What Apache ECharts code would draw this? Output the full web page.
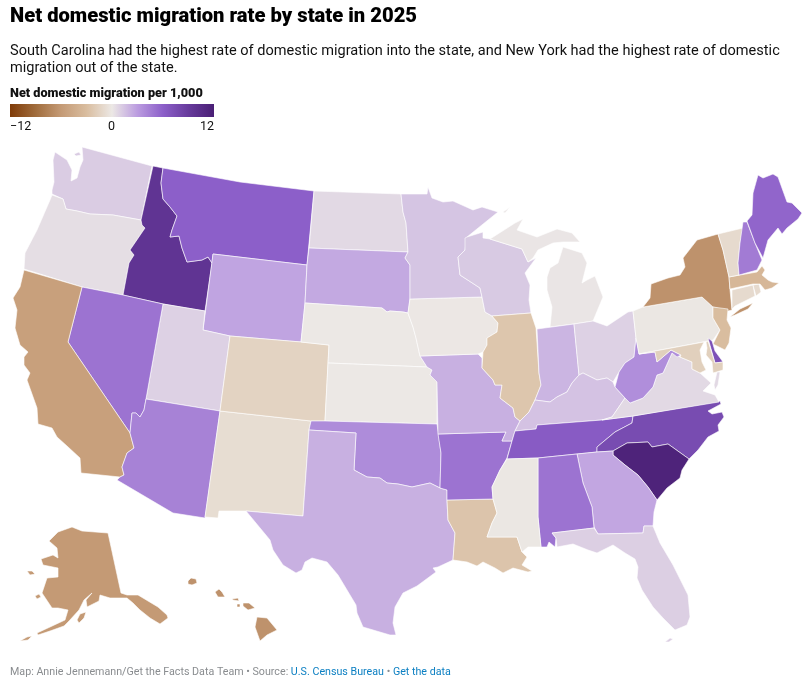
<!DOCTYPE html>
<html>
<head>
<meta charset="utf-8">
<script src="https://cdn.jsdelivr.net/npm/echarts@6/dist/echarts.min.js"></script>
<style>html,body{margin:0;padding:0;background:#fff}#c{width:809px;height:681px}</style>
</head>
<body>
<div id="c"></div>
<script>
// Chart values
const stateNames = ["South Carolina","Idaho","Delaware","North Carolina","Tennessee","Montana","Maine","Nevada","Arkansas","Alabama","New Hampshire","Arizona","Oklahoma","West Virginia","Wyoming","Georgia","South Dakota","Texas","Missouri","Indiana","Kentucky","Minnesota","Wisconsin","Washington","Florida","Utah","Ohio","Virginia","North Dakota","Oregon","Michigan","Mississippi","Pennsylvania","Iowa","Nebraska","Kansas","New Mexico","Colorado","Vermont","Connecticut","Rhode Island","Maryland","Illinois","Louisiana","New Jersey","Massachusetts","California","Alaska","Hawaii","New York"];
const migrationRates = [11.6,9.7,7.2,7.6,6.3,6.0,5.7,5.0,5.0,5.0,4.6,4.3,3.8,3.7,2.7,2.6,2.5,2.2,2.2,2.0,1.5,1.4,1.2,1.1,1.0,0.9,0.9,0.6,0.6,0.4,0.1,-0.1,-0.1,-0.05,0,0,-0.8,-1.5,-1,-1,-1,-1.7,-2.4,-2.5,-3,-3.5,-5.5,-6,-6.5,-6.5];
const legendTicks = ["−12","0","12"];
const legendDomain = [-12,12];
const legendColors = ["#7f3b08","#a06c3c","#c49a75","#d9bd9f","#ece8e5","#bb9ce0","#8c5fc9","#673b9c","#4a1f75"];
const headline = "Net domestic migration rate by state in 2025";
const deck = "South Carolina had the highest rate of domestic migration into the state, and New York had the highest rate of domestic\nmigration out of the state.";
const legendTitle = "Net domestic migration per 1,000";

// Map outlines (base geography, traced in map units)
const outlines = {
"Washington":[[[82,147],[152,166],[141,220],[113,215],[90,214],[77,211],[66,209],[63,199],[52,194],[52,190],[54,182],[53,160],[55,152],[67,160],[72,170],[71,181],[77,178],[80,167],[83,160]],[[74,154],[79,152],[81,155],[76,156]]],
"Oregon":[[[52,195],[63,199],[66,209],[77,211],[90,214],[113,215],[141,220],[142,225],[145,228],[130,250],[134,255],[129,263],[123,295],[82,287],[24,269],[25,253],[37,230],[50,200]]],
"Idaho":[[[153,166],[163,168],[161,183],[163,199],[170,207],[177,216],[172,230],[170,237],[179,236],[182,248],[187,262],[202,260],[208,257],[212,263],[205,311],[163,304],[123,295],[129,263],[134,255],[130,250],[145,228],[142,225],[141,220]]],
"Montana":[[[163,168],[240,182],[314,191],[307,265],[213,254],[212,263],[208,257],[202,260],[187,262],[182,248],[179,236],[170,237],[172,230],[177,216],[170,207],[163,199],[161,183]]],
"Wyoming":[[[213,254],[307,265],[305,303],[301,342],[230,336],[203,330]]],
"Utah":[[[163,304],[205,311],[203,330],[230,336],[220,411],[146,399]]],
"Nevada":[[[82,287],[123,295],[163,304],[146,399],[144,410],[140,417],[136,413],[132,413],[130,433],[68,342]]],
"California":[[[24,270],[82,287],[68,342],[130,433],[134,448],[127,453],[122,467],[124,475],[120,477],[81,473],[80,458],[67,446],[57,437],[52,428],[38,424],[37,408],[27,380],[30,373],[24,365],[24,357],[28,352],[20,345],[15,328],[17,310],[13,298],[20,287]]],
"Arizona":[[[146,399],[220,411],[205,518],[173,513],[117,480],[120,477],[124,475],[122,467],[127,453],[134,448],[130,433],[132,413],[136,413],[140,417],[144,410]]],
"New Mexico":[[[220,411],[311,421],[309,430],[303,516],[246,511],[219,511],[218,518],[205,517]]],
"Colorado":[[[230,336],[301,342],[329,345],[325,421],[311,421],[220,411]]],
"North Dakota":[[[314,191],[401,194],[403,212],[406,223],[408,252],[309,248]]],
"South Dakota":[[[309,248],[408,252],[405,258],[410,265],[410,298],[408,313],[403,312],[390,311],[387,312],[382,308],[305,303],[307,265]]],
"Nebraska":[[[305,303],[382,308],[387,312],[390,311],[403,312],[408,313],[413,327],[416,338],[420,356],[427,367],[328,363],[329,345],[301,342]]],
"Kansas":[[[328,363],[427,367],[432,370],[430,375],[437,382],[437,424],[325,421]]],
"Oklahoma":[[[311,421],[325,421],[437,424],[441,453],[440,488],[430,483],[412,487],[398,484],[387,483],[380,478],[367,477],[354,470],[356,433],[309,430]]],
"Texas":[[[309,430],[356,433],[354,470],[367,477],[380,478],[387,483],[398,484],[412,487],[430,483],[440,488],[447,490],[447,500],[448,520],[455,533],[453,560],[438,567],[433,568],[436,572],[417,586],[403,593],[395,607],[393,623],[396,635],[390,635],[363,627],[357,613],[356,605],[338,575],[327,562],[312,558],[305,562],[302,570],[296,573],[283,565],[273,550],[270,540],[246,511],[303,516]]],
"Louisiana":[[[447,500],[493,499],[497,513],[492,523],[487,537],[517,537],[522,552],[527,557],[522,565],[532,571],[528,572],[513,568],[503,573],[495,568],[483,562],[477,566],[467,562],[453,560],[455,533],[448,520]]],
"Arkansas":[[[438,434],[506,432],[502,441],[512,441],[507,458],[500,470],[492,487],[493,499],[447,500],[447,490],[440,488],[441,453]]],
"Missouri":[[[420,356],[478,354],[482,358],[482,368],[493,380],[495,385],[502,385],[500,398],[513,408],[515,417],[520,421],[515,431],[512,441],[502,441],[506,432],[438,434],[437,382],[430,375],[432,370],[427,367]]],
"Iowa":[[[410,299],[482,297],[485,312],[492,316],[498,323],[497,332],[487,338],[487,345],[483,352],[478,354],[420,356],[416,338],[413,327],[408,313]]],
"Minnesota":[[[401,194],[427,194],[428,187],[432,198],[443,202],[453,201],[473,210],[482,207],[498,212],[467,237],[465,250],[458,257],[460,275],[480,288],[482,297],[410,299],[410,265],[405,258],[408,252],[406,223],[403,212]]],
"Wisconsin":[[[465,238],[467,237],[483,232],[483,238],[490,239],[522,249],[528,262],[536,258],[525,273],[530,285],[529,300],[531,313],[492,316],[485,312],[482,297],[480,288],[460,275],[458,257],[465,250]]],
"Michigan":[[[550,327],[552,307],[547,290],[547,277],[550,268],[558,263],[563,247],[582,253],[587,263],[582,283],[587,280],[595,276],[603,297],[593,321],[574,324]],[[490,239],[515,223],[523,219],[517,230],[537,237],[557,229],[572,233],[580,242],[563,242],[553,243],[538,250],[533,258],[528,262],[522,249]],[[503,212],[510,207],[511,208],[505,213]]],
"Illinois":[[[492,316],[531,313],[536,328],[539,373],[541,385],[535,400],[529,412],[520,421],[515,417],[513,408],[500,398],[502,385],[495,385],[493,380],[482,368],[483,352],[487,345],[487,338],[497,332],[498,323]]],
"Indiana":[[[537,329],[574,324],[579,375],[572,383],[567,392],[557,397],[550,402],[535,400],[541,385],[539,373]]],
"Ohio":[[[574,324],[593,321],[607,326],[628,312],[633,311],[636,338],[634,357],[625,363],[619,372],[613,382],[607,378],[597,380],[583,373],[579,375]]],
"Kentucky":[[[535,400],[550,402],[557,397],[567,392],[572,383],[579,375],[583,373],[597,380],[607,378],[613,382],[615,387],[625,398],[612,417],[602,420],[537,425],[536,429],[515,431],[520,421],[529,412]]],
"Tennessee":[[[515,431],[536,429],[537,425],[602,420],[633,416],[632,423],[615,432],[597,447],[597,452],[577,454],[538,458],[507,459],[512,441]]],
"North Carolina":[[[633,416],[720,401],[721,404],[708,411],[712,414],[722,412],[724,417],[718,425],[719,431],[708,437],[698,450],[689,459],[668,444],[652,447],[648,442],[627,443],[613,451],[597,452],[597,447],[615,432],[632,423]]],
"South Carolina":[[[613,451],[627,443],[648,442],[652,447],[668,444],[689,459],[682,470],[680,478],[667,488],[657,500],[648,487],[638,475],[625,465],[613,455]]],
"Georgia":[[[577,454],[597,452],[613,451],[613,455],[625,465],[638,475],[648,487],[657,500],[654,512],[653,526],[644,526],[643,533],[598,534],[594,527],[592,507],[583,483]]],
"Alabama":[[[538,458],[577,454],[583,483],[592,507],[594,528],[552,533],[556,538],[555,547],[549,542],[547,547],[541,547],[538,517]]],
"Mississippi":[[[507,459],[538,458],[538,517],[541,547],[528,547],[522,552],[517,537],[487,537],[492,523],[497,513],[493,499],[492,487],[500,470]]],
"Florida":[[[552,533],[594,528],[598,534],[643,533],[644,526],[653,526],[660,543],[673,565],[688,595],[690,617],[687,625],[675,630],[663,618],[653,607],[642,590],[637,578],[638,567],[635,559],[625,553],[613,545],[597,553],[588,550],[573,544],[557,547],[556,538]],[[665,642],[670,638],[673,639],[669,642]]],
"Virginia":[[[602,420],[612,417],[625,398],[630,403],[643,398],[653,387],[657,375],[663,373],[672,353],[680,357],[692,362],[692,369],[700,373],[711,383],[703,391],[715,395],[719,402],[633,416]],[[714,385],[717,372],[720,372],[718,385],[715,390]]],
"West Virginia":[[[636,338],[639,354],[655,352],[657,362],[671,350],[681,355],[677,357],[672,353],[663,373],[657,375],[653,387],[643,398],[630,403],[625,398],[615,387],[619,372],[625,363],[634,357]]],
"Pennsylvania":[[[633,311],[643,307],[702,297],[713,307],[713,318],[720,330],[713,340],[708,341],[639,354],[636,338]]],
"New York":[[[643,307],[650,298],[651,284],[668,278],[680,275],[685,267],[683,258],[697,240],[718,234],[723,250],[729,277],[730,290],[732,310],[728,311],[713,307],[702,297]],[[730,317],[740,309],[753,303],[748,309],[735,315]]],
"New Jersey":[[[713,307],[728,309],[727,320],[731,328],[729,343],[725,350],[713,344],[720,330],[713,318]]],
"Delaware":[[[708,338],[712,341],[715,351],[723,362],[715,363]]],
"Maryland":[[[639,354],[704,342],[700,350],[702,362],[706,370],[700,373],[692,369],[692,362],[680,357],[681,355],[671,350],[657,362],[655,352]],[[706,342],[708,341],[715,363],[723,362],[723,370],[713,373],[712,362],[706,355],[707,348]]],
"Connecticut":[[[732,290],[753,285],[755,296],[735,306],[732,309]]],
"Rhode Island":[[[753,285],[759,284],[761,292],[756,296]]],
"Massachusetts":[[[729,277],[757,272],[762,266],[765,270],[762,275],[768,280],[772,282],[779,283],[772,288],[765,290],[760,284],[753,284],[730,289]]],
"Vermont":[[[718,234],[743,228],[740,243],[738,263],[739,275],[729,277],[723,250]]],
"New Hampshire":[[[743,222],[747,222],[755,243],[762,260],[757,270],[739,275],[738,263],[740,243]]],
"Maine":[[[747,221],[752,215],[753,193],[758,175],[763,178],[773,174],[778,177],[787,202],[792,203],[802,213],[798,219],[787,228],[782,234],[778,228],[768,240],[763,258],[755,243]]],
"Alaska":[[[72,527],[82,531],[108,533],[121,593],[127,595],[138,595],[143,598],[158,607],[167,615],[168,618],[160,624],[150,618],[140,610],[133,603],[127,598],[110,598],[100,595],[99,601],[87,607],[86,600],[92,593],[84,600],[79,610],[69,621],[64,626],[50,631],[38,635],[37,633],[50,627],[65,620],[68,610],[58,608],[52,608],[42,593],[47,578],[58,577],[58,568],[43,565],[41,559],[53,555],[58,558],[57,548],[49,541],[58,532]],[[27,571],[32,571],[35,574],[30,575]],[[35,596],[39,594],[41,597],[37,599]],[[77,620],[80,614],[86,612],[84,618],[79,623]],[[20,641],[27,637],[32,636],[28,640]]],
"Hawaii":[[[257,617],[267,618],[277,630],[267,635],[260,641],[255,627]],[[243,603],[249,603],[255,608],[248,610],[243,606]],[[232,599],[238,598],[239,601],[233,600]],[[237,604],[240,604],[240,607],[237,607]],[[215,592],[219,589],[222,592],[225,597],[218,597]],[[188,581],[191,578],[196,579],[197,583],[192,585],[188,584]]]
};

const features = Object.keys(outlines).map(name => ({
  type: "Feature",
  properties: { name },
  geometry: { type: "MultiPolygon", coordinates: outlines[name].map(r => [r.concat([r[0]])]) }
}));
echarts.registerMap("usa", { type: "FeatureCollection", features });

const allPts = Object.values(outlines).flat(2);
const xs = allPts.map(p => p[0]), ys = allPts.map(p => p[1]);
const x0 = Math.min(...xs), x1 = Math.max(...xs), y0 = Math.min(...ys), y1 = Math.max(...ys);

const font = "Roboto";
const chart = echarts.init(document.getElementById("c"), null, { renderer: "canvas" });
chart.setOption({
  animation: false,
  backgroundColor: "#fff",
  title: [
    { text: headline, left: 10, top: 7, padding: 0, textStyle: { fontFamily: font, fontSize: 20.2, fontWeight: 900, color: "#000" } },
    { text: deck, left: 10, top: 43, padding: 0, textStyle: { fontFamily: font, fontSize: 14.55, fontWeight: 400, color: "#111", lineHeight: 17 } },
    { text: legendTitle, left: 10, top: 87, padding: 0, textStyle: { fontFamily: font, fontSize: 12.7, fontWeight: 900, color: "#111" } },
    { text: legendTicks[0], left: 10, top: 120, padding: 0, textStyle: { fontFamily: font, fontSize: 12.5, fontWeight: 400, color: "#111" } },
    { text: legendTicks[1], left: 108, top: 120, padding: 0, textStyle: { fontFamily: font, fontSize: 12.5, fontWeight: 400, color: "#111" } },
    { text: legendTicks[2], left: 200, top: 120, padding: 0, textStyle: { fontFamily: font, fontSize: 12.5, fontWeight: 400, color: "#111" } },
    { text: "{g|Map: Annie Jennemann/Get the Facts Data Team • Source: }{b|U.S. Census Bureau}{g| • }{b|Get the data}", left: 10, top: 667, padding: 0,
      textStyle: { rich: { g: { fontFamily: font, fontSize: 10.7, fontWeight: 400, color: "#8a8d90" }, b: { fontFamily: font, fontSize: 10.7, fontWeight: 400, color: "#0b7fc2" } } } }
  ],
  graphic: [{
    type: "rect", silent: true, shape: { x: 10, y: 104, width: 204, height: 13 },
    style: { fill: new echarts.graphic.LinearGradient(0, 0, 1, 0, legendColors.map((color, i) => ({ offset: i / (legendColors.length - 1), color }))) }
  }],
  visualMap: {
    type: "continuous", show: false, min: legendDomain[0], max: legendDomain[1],
    inRange: { color: legendColors }
  },
  series: [{
    type: "map", map: "usa", silent: true,
    projection: { project: p => p, unproject: p => p },
    left: x0, top: y0, width: x1 - x0, height: y1 - y0,
    label: { show: false },
    itemStyle: { borderColor: "#fff", borderWidth: 0.6, areaColor: "#eee" },
    emphasis: { disabled: true },
    data: stateNames.map((name, i) => ({ name, value: migrationRates[i] }))
  }]
});
</script>
</body>
</html>
